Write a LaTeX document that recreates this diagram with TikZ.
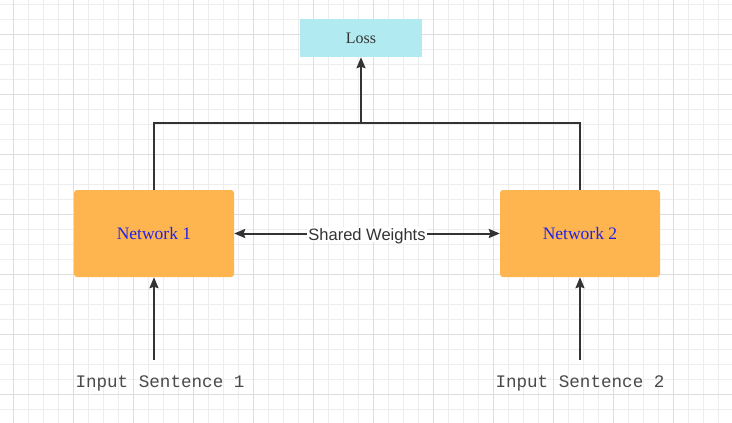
\documentclass[tikz,border=0pt]{standalone}
\usepackage{fontspec}
\setmainfont{Liberation Serif}
\setsansfont{Liberation Sans}
\setmonofont{Liberation Mono}
\usetikzlibrary{arrows.meta}
\definecolor{gridminor}{HTML}{EDEDED}
\definecolor{gridmajor}{HTML}{DDDDDD}
\definecolor{linec}{HTML}{333333}
\definecolor{monoc}{HTML}{4A4A4A}
\definecolor{netfill}{HTML}{FFB54F}
\definecolor{lossfill}{HTML}{B1EBF1}
\definecolor{nettext}{HTML}{2222E6}
\tikzset{
  netbox/.style={fill=netfill, draw=none, rounded corners=3pt, minimum width=160pt, minimum height=87pt, inner sep=0pt, text=nettext, font=\fontsize{17.5}{20}\selectfont},
  lossbox/.style={fill=lossfill, draw=none, minimum width=122pt, minimum height=38pt, inner sep=0pt, text=linec, font=\fontsize{16}{18}\selectfont},
  inlabel/.style={inner sep=0pt, text=monoc, font=\ttfamily\fontsize{17.6}{20}\selectfont},
  conn/.style={draw=linec, line width=2pt},
  arr/.style={conn, -{Stealth[length=11pt, width=9pt, inset=1.5pt]}},
  biarr/.style={conn, {Stealth[length=11pt, width=9pt, inset=1.5pt]}-{Stealth[length=11pt, width=9pt, inset=1.5pt]}},
}
\begin{document}
\begin{tikzpicture}[x=1pt, y=-1pt]
\useasboundingbox (0,0) rectangle (732,423);
\fill[white] (0,0) rectangle (732,423);
% grid
\foreach \i in {0,...,48} {
  \draw[gridminor, line width=1pt] ({13.33+15*\i},0) -- ({13.33+15*\i},423);
}
\foreach \i in {0,...,28} {
  \draw[gridminor, line width=1pt] (0,{4.33+15*\i}) -- (732,{4.33+15*\i});
}
\foreach \i in {0,...,12} {
  \draw[gridmajor, line width=1pt] ({13.33+60*\i},0) -- ({13.33+60*\i},423);
}
\foreach \i in {0,...,6} {
  \draw[gridmajor, line width=1pt] (0,{34.33+60*\i}) -- (732,{34.33+60*\i});
}
% nodes
\node[lossbox] (loss) at (361,38) {Loss};
\node[netbox] (n1) at (154,233.5) {Network 1};
\node[netbox] (n2) at (580,233.5) {Network 2};
\node[inlabel] (in1) at (160,383) {Input Sentence 1};
\node[inlabel] (in2) at (580,383) {Input Sentence 2};
\coordinate (j) at (361,122.5);
\coordinate (s1) at (154,360);
\coordinate (s2) at (580,360);
% connectors
\draw[conn] (n1.north) |- (j) -| (n2.north);
\draw[arr] (j) -- (loss.south);
\draw[arr] (s1) -- (n1.south);
\draw[arr] (s2) -- (n2.south);
\draw[biarr] (n1.east) -- (n2.west) node[midway, fill=white, inner xsep=1pt, inner ysep=2pt, text depth=0pt, yshift=-1pt, text=linec, font=\sffamily\fontsize{16.5}{19}\selectfont] (sw) {Shared Weights};
\end{tikzpicture}
\end{document}
